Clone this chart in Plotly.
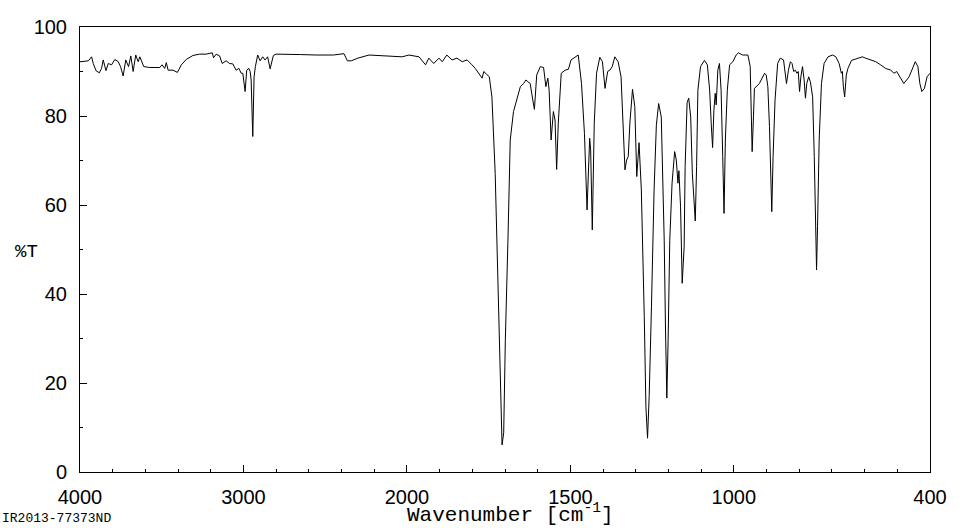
import numpy as np
import plotly.graph_objects as go

# Wavenumber (cm-1) and transmittance (%T)
wavenumber = [
    4000, 3994, 3949, 3929, 3919, 3902, 3882, 3868, 3858, 3841, 3827, 3807, 3787, 3766, 3752, 3736,
    3720, 3703, 3689, 3675, 3659, 3644, 3634, 3610, 3573, 3533, 3512, 3498, 3482, 3472, 3461, 3431,
    3404, 3380, 3350, 3309, 3268, 3228, 3191, 3183, 3167, 3146, 3130, 3106, 3085, 3065, 3045, 3028,
    3014, 3004, 2990, 2980, 2967, 2959, 2953, 2943, 2935, 2927, 2913, 2898, 2882, 2868, 2852, 2837,
    2817, 2801, 2750, 2650, 2550, 2450, 2385, 2364, 2340, 2300, 2232, 2130, 2029, 1994, 1963, 1943,
    1933, 1918, 1902, 1892, 1878, 1862, 1847, 1831, 1816, 1801, 1791, 1770, 1765, 1748, 1740, 1730,
    1722, 1714, 1709, 1704, 1699, 1691, 1684, 1674, 1664, 1653, 1643, 1636, 1630, 1623, 1615, 1610,
    1603, 1592, 1582, 1575, 1569, 1565, 1559, 1552, 1547, 1542, 1537, 1528, 1516, 1506, 1498, 1486,
    1476, 1466, 1457, 1449, 1441, 1438, 1433, 1427, 1420, 1410, 1402, 1394, 1386, 1379, 1372, 1364,
    1354, 1345, 1338, 1333, 1328, 1323, 1318, 1310, 1303, 1297, 1290, 1283, 1274, 1269, 1264, 1259,
    1252, 1244, 1237, 1230, 1222, 1213, 1209, 1205, 1201, 1196, 1189, 1181, 1176, 1171, 1168, 1163,
    1158, 1152, 1149, 1143, 1138, 1132, 1127, 1122, 1118, 1114, 1110, 1102, 1090, 1081, 1074, 1069,
    1065, 1061, 1057, 1054, 1049, 1044, 1039, 1034, 1030, 1026, 1020, 1013, 1003, 993, 986, 973,
    957, 950, 947, 944, 940, 937, 922, 906, 901, 896, 891, 886, 884, 880, 874, 866,
    858, 848, 843, 839, 833, 827, 822, 817, 812, 807, 803, 799, 795, 790, 785, 781,
    777, 771, 766, 759, 754, 751, 747, 744, 739, 732, 724, 712, 698, 688, 678, 671,
    668, 665, 661, 656, 651, 640, 622, 607, 597, 581, 566, 551, 536, 520, 510, 502,
    495, 480, 464, 451, 445, 437, 431, 425, 417, 409, 400,
]
transmittance = [
    92.2, 92.2, 92.4, 93.3, 91.8, 90.2, 89.7, 90.7, 92.6, 90.2, 91.8, 91.5, 92.7, 92.2, 91.1, 89.0,
    92.6, 91.1, 93.5, 90.0, 93.7, 92.2, 93.3, 91.1, 90.9, 90.9, 90.9, 91.5, 90.7, 92.0, 90.3, 90.3,
    89.8, 91.5, 92.7, 93.6, 93.9, 93.9, 94.2, 93.1, 93.9, 93.5, 91.8, 92.4, 91.8, 91.7, 90.3, 90.7,
    89.6, 89.6, 85.5, 90.3, 90.7, 90.0, 88.1, 75.4, 88.8, 91.1, 93.7, 92.4, 93.3, 92.6, 93.3, 90.6,
    93.6, 93.9, 93.9, 93.8, 93.7, 93.7, 94.0, 92.4, 92.4, 93.0, 93.7, 93.5, 93.3, 93.7, 93.3, 91.5,
    93.0, 91.8, 93.0, 92.2, 93.7, 92.6, 93.0, 92.2, 92.6, 91.5, 90.7, 88.5, 90.0, 88.8, 84.3, 67.1,
    44.6, 16.2, 6.1, 8.8, 29.7, 52.1, 74.6, 81.0, 83.6, 86.6, 87.3, 88.1, 87.7, 87.3, 83.6, 81.5,
    89.2, 91.1, 90.9, 86.6, 88.5, 85.8, 74.6, 81.0, 79.1, 68.0, 78.4, 89.6, 90.3, 90.5, 92.6, 93.3,
    93.7, 87.3, 76.1, 58.9, 75.0, 72.4, 54.4, 78.4, 89.6, 93.2, 92.2, 86.2, 90.0, 90.3, 91.1, 93.3,
    92.2, 88.8, 78.4, 67.9, 70.1, 70.9, 78.4, 86.0, 82.1, 66.4, 74.0, 63.4, 34.9, 14.7, 7.6, 16.9,
    37.1, 63.4, 78.0, 82.8, 79.8, 52.1, 31.9, 16.6, 29.7, 52.1, 64.9, 72.0, 70.1, 64.9, 67.7, 59.6,
    42.4, 50.6, 68.6, 83.0, 84.0, 79.8, 67.1, 59.6, 56.4, 68.6, 85.8, 91.1, 92.5, 91.5, 85.8, 78.0,
    72.9, 81.3, 85.1, 82.5, 90.3, 91.8, 85.8, 70.9, 58.1, 74.6, 85.8, 91.5, 92.2, 93.7, 94.2, 93.7,
    93.7, 91.1, 82.1, 72.0, 79.8, 86.2, 87.3, 89.6, 89.2, 86.6, 77.6, 67.1, 58.5, 70.9, 83.6, 91.8,
    93.0, 92.6, 89.6, 87.3, 90.3, 92.2, 91.8, 90.0, 90.3, 89.6, 90.0, 85.5, 88.8, 91.1, 88.1, 84.0,
    87.3, 88.8, 87.7, 84.3, 70.9, 55.9, 45.4, 55.1, 74.6, 87.3, 91.8, 93.3, 93.7, 93.3, 91.8, 89.6,
    90.0, 86.6, 84.3, 89.2, 90.7, 92.5, 93.0, 93.3, 93.0, 92.6, 92.2, 91.5, 90.7, 90.3, 89.6, 90.0,
    89.2, 87.3, 88.8, 91.1, 92.2, 91.1, 87.3, 85.5, 86.2, 88.8, 89.6,
]

x_tick_labels = [4000, 3000, 2000, 1500, 1000, 400]
y_tick_labels = [0, 20, 40, 60, 80, 100]


def to_axis(w):
    """Wavenumber axis is compressed by 2x above 2000 cm-1."""
    w = np.asarray(w, dtype=float)
    return np.where(w > 2000, 2000 + (w - 2000) / 2.0, w)


fig = go.Figure()
fig.add_trace(go.Scatter(
    x=to_axis(wavenumber), y=transmittance, mode="lines",
    line=dict(color="black", width=1), showlegend=False, hoverinfo="skip",
))

tick_font = dict(family="Liberation Sans, Arial, sans-serif", size=20, color="black")
mono = "Liberation Mono, Courier New, monospace"

fig.update_layout(
    width=959, height=528,
    margin=dict(l=80, r=26, t=27, b=56),
    paper_bgcolor="white", plot_bgcolor="white",
    xaxis=dict(
        range=[float(to_axis(4000)), float(to_axis(400))],
        tickmode="array",
        tickvals=to_axis(x_tick_labels).tolist(),
        ticktext=[str(v) for v in x_tick_labels],
        ticks="inside", ticklen=7, tickwidth=1, tickcolor="black",
        minor=dict(ticks="inside", ticklen=3, tickwidth=1, tickcolor="black",
                   tickmode="linear", tick0=0, dtick=100, showgrid=False),
        showline=True, linecolor="black", linewidth=1, mirror=True,
        showgrid=False, zeroline=False, tickfont=tick_font,
        ticklabelstandoff=7,
    ),
    yaxis=dict(
        range=[0, 100],
        tickmode="array", tickvals=y_tick_labels,
        ticktext=[str(v) for v in y_tick_labels],
        ticks="inside", ticklen=7, tickwidth=1, tickcolor="black",
        minor=dict(ticks="inside", ticklen=3, tickwidth=1, tickcolor="black",
                   tickmode="linear", tick0=0, dtick=10, showgrid=False),
        showline=True, linecolor="black", linewidth=1, mirror=True,
        showgrid=False, zeroline=False, tickfont=tick_font,
        ticklabelstandoff=8,
    ),
    annotations=[
        dict(text="Wavenumber [cm<sup>-1</sup>]", xref="paper", yref="paper",
             x=0.5065, y=-0.094, xanchor="center", yanchor="middle", showarrow=False,
             font=dict(family=mono, size=21, color="black")),
        dict(text="%T", xref="paper", yref="paper",
             x=-0.0625, y=0.494, xanchor="center", yanchor="middle", showarrow=False,
             font=dict(family=mono, size=19, color="black")),
        dict(text="IR2013-77373ND", xref="paper", yref="paper",
             x=-0.0938, y=-0.1056, xanchor="left", yanchor="middle", showarrow=False,
             font=dict(family=mono, size=13, color="black")),
    ],
)

fig.write_html("out.html")
